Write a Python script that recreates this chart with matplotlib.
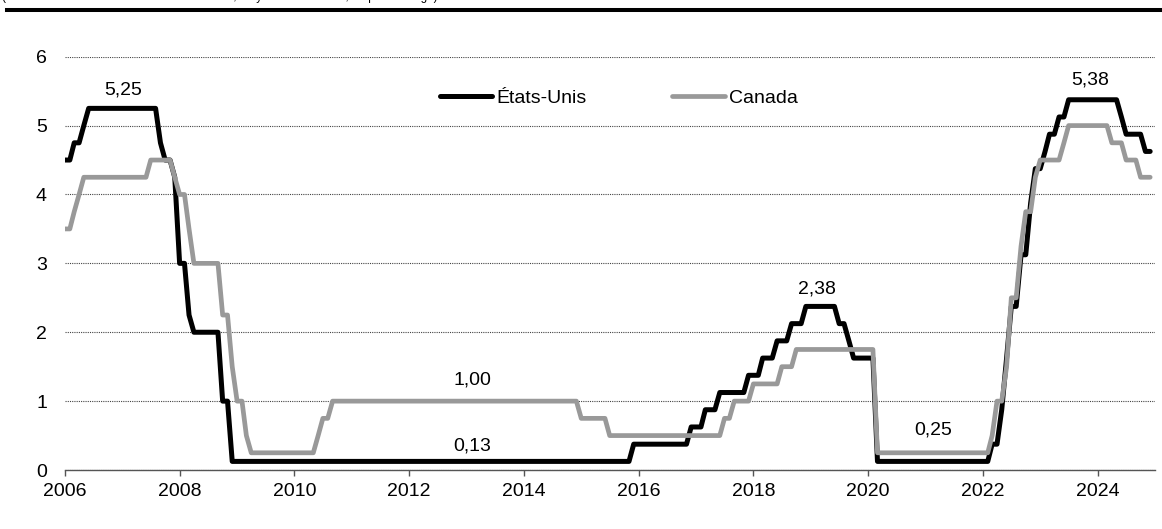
import numpy as np
import pandas as pd
import matplotlib
matplotlib.use('Agg')
import matplotlib.pyplot as plt
import matplotlib.dates as mdates
from matplotlib.lines import Line2D
from decimal import Decimal, ROUND_HALF_UP

plt.rcParams['font.family'] = ['Liberation Sans', 'DejaVu Sans']

# Données mensuelles, janvier 2006 à décembre 2024
mois = pd.date_range('2006-01-01', '2024-12-01', freq='MS')

# Taux des fonds fédéraux (point milieu de la fourchette cible), en %
etats_unis = (
    [4.5, 4.5, 4.75, 4.75, 5.0, 5.25, 5.25, 5.25, 5.25, 5.25, 5.25, 5.25]          # 2006
    + [5.25, 5.25, 5.25, 5.25, 5.25, 5.25, 5.25, 5.25, 4.75, 4.5, 4.5, 4.25]       # 2007
    + [3.0, 3.0, 2.25, 2.0, 2.0, 2.0, 2.0, 2.0, 2.0, 1.0, 1.0, 0.125]              # 2008
    + [0.125] * 12 * 6                                                               # 2009-2014
    + [0.125] * 11 + [0.375]                                                         # 2015
    + [0.375] * 11 + [0.625]                                                         # 2016
    + [0.625, 0.625, 0.875, 0.875, 0.875, 1.125, 1.125, 1.125, 1.125, 1.125, 1.125, 1.375]  # 2017
    + [1.375, 1.375, 1.625, 1.625, 1.625, 1.875, 1.875, 1.875, 2.125, 2.125, 2.125, 2.375]  # 2018
    + [2.375, 2.375, 2.375, 2.375, 2.375, 2.375, 2.125, 2.125, 1.875, 1.625, 1.625, 1.625]  # 2019
    + [1.625, 1.625] + [0.125] * 10                                                  # 2020
    + [0.125] * 12                                                                   # 2021
    + [0.125, 0.125, 0.375, 0.375, 0.875, 1.625, 2.375, 2.375, 3.125, 3.125, 3.875, 4.375]  # 2022
    + [4.375, 4.625, 4.875, 4.875, 5.125, 5.125, 5.375, 5.375, 5.375, 5.375, 5.375, 5.375]  # 2023
    + [5.375, 5.375, 5.375, 5.375, 5.375, 5.125, 4.875, 4.875, 4.875, 4.875, 4.625, 4.625]  # 2024
)

# Taux cible du financement à un jour, en %
canada = (
    [3.5, 3.5, 3.75, 4.0, 4.25, 4.25, 4.25, 4.25, 4.25, 4.25, 4.25, 4.25]          # 2006
    + [4.25, 4.25, 4.25, 4.25, 4.25, 4.25, 4.5, 4.5, 4.5, 4.5, 4.5, 4.25]          # 2007
    + [4.0, 4.0, 3.5, 3.0, 3.0, 3.0, 3.0, 3.0, 3.0, 2.25, 2.25, 1.5]               # 2008
    + [1.0, 1.0, 0.5] + [0.25] * 9                                                   # 2009
    + [0.25, 0.25, 0.25, 0.25, 0.25, 0.5, 0.75, 0.75, 1.0, 1.0, 1.0, 1.0]          # 2010
    + [1.0] * 12 * 4                                                                 # 2011-2014
    + [0.75] * 6 + [0.5] * 6                                                         # 2015
    + [0.5] * 12                                                                     # 2016
    + [0.5] * 6 + [0.75, 0.75, 1.0, 1.0, 1.0, 1.0]                                  # 2017
    + [1.25] * 6 + [1.5, 1.5, 1.5, 1.75, 1.75, 1.75]                                # 2018
    + [1.75] * 12                                                                    # 2019
    + [1.75, 1.75] + [0.25] * 10                                                     # 2020
    + [0.25] * 12                                                                    # 2021
    + [0.25, 0.25, 0.5, 1.0, 1.0, 1.5, 2.5, 2.5, 3.25, 3.75, 3.75, 4.25]            # 2022
    + [4.5, 4.5, 4.5, 4.5, 4.5, 4.75, 5.0, 5.0, 5.0, 5.0, 5.0, 5.0]                # 2023
    + [5.0, 5.0, 5.0, 4.75, 4.75, 4.75, 4.5, 4.5, 4.5, 4.25, 4.25, 4.25]           # 2024
)

serie_us = pd.Series(etats_unis, index=mois)
serie_ca = pd.Series(canada, index=mois)


def fmt(v):
    d = Decimal(str(v)).quantize(Decimal('0.01'), rounding=ROUND_HALF_UP)
    return str(d).replace('.', ',')


fig = plt.figure(figsize=(11.62, 5.29), dpi=100)
ax = fig.add_axes([0.0559, 0.1115, 0.9381, 0.7813])

ax.plot(serie_us.index, serie_us.values, color='black', lw=3.6,
        solid_joinstyle='round', solid_capstyle='round', label='États-Unis')
ax.plot(serie_ca.index, serie_ca.values, color='#999999', lw=3.4,
        solid_joinstyle='round', solid_capstyle='round', label='Canada')

# étiquettes de valeurs
etiquettes = [
    (serie_us['2006-06-01'], '2007-01-05', 0.27),
    (serie_ca['2013-01-01'], '2013-02-05', 0.31),
    (serie_us['2013-01-01'], '2013-02-05', 0.23),
    (serie_us['2019-01-01'], '2019-02-10', 0.26),
    (serie_ca['2021-01-01'], '2021-02-20', 0.33),
    (serie_us['2023-09-01'], '2023-11-15', 0.28),
]
for val, date, dy in etiquettes:
    ax.text(pd.Timestamp(date), val + dy, fmt(val), ha='center', va='center',
            fontsize=14)

ax.set_ylim(0, 6)
ax.set_yticks(range(0, 7))
ax.set_xlim(pd.Timestamp('2006-01-01'), pd.Timestamp('2025-01-01'))
ax.xaxis.set_major_locator(mdates.YearLocator(2))
ax.xaxis.set_major_formatter(mdates.DateFormatter('%Y'))

ax.grid(axis='y', color='#444444', lw=0.8, ls=(0, (1, 1)))
ax.set_axisbelow(True)
for s in ['top', 'right', 'left']:
    ax.spines[s].set_visible(False)
ax.spines['bottom'].set_color('#555555')
ax.spines['bottom'].set_linewidth(1.0)
ax.tick_params(axis='y', length=0, pad=13, labelsize=14)
ax.tick_params(axis='x', length=4.5, width=1.0, color='#555555', pad=5,
               labelsize=14)

ax.legend(loc='center', bbox_to_anchor=(0.508, 0.90), ncol=2, frameon=False,
          fontsize=14, handlelength=2.7, handletextpad=0.2,
          columnspacing=4.4)

# bandeau du haut (sous-titre rogné par le bord de la figure)
fig.text(0.002, 1.0005, "(Taux directeur aux États-Unis et au Canada, moyenne mensuelle, en pourcentage)",
         fontsize=8.5, va='baseline', ha='left')
fig.add_artist(Line2D([0.006, 1.0], [0.9811, 0.9811], color='black', lw=2.9,
                      transform=fig.transFigure))

fig.savefig('out.png', dpi=100)
